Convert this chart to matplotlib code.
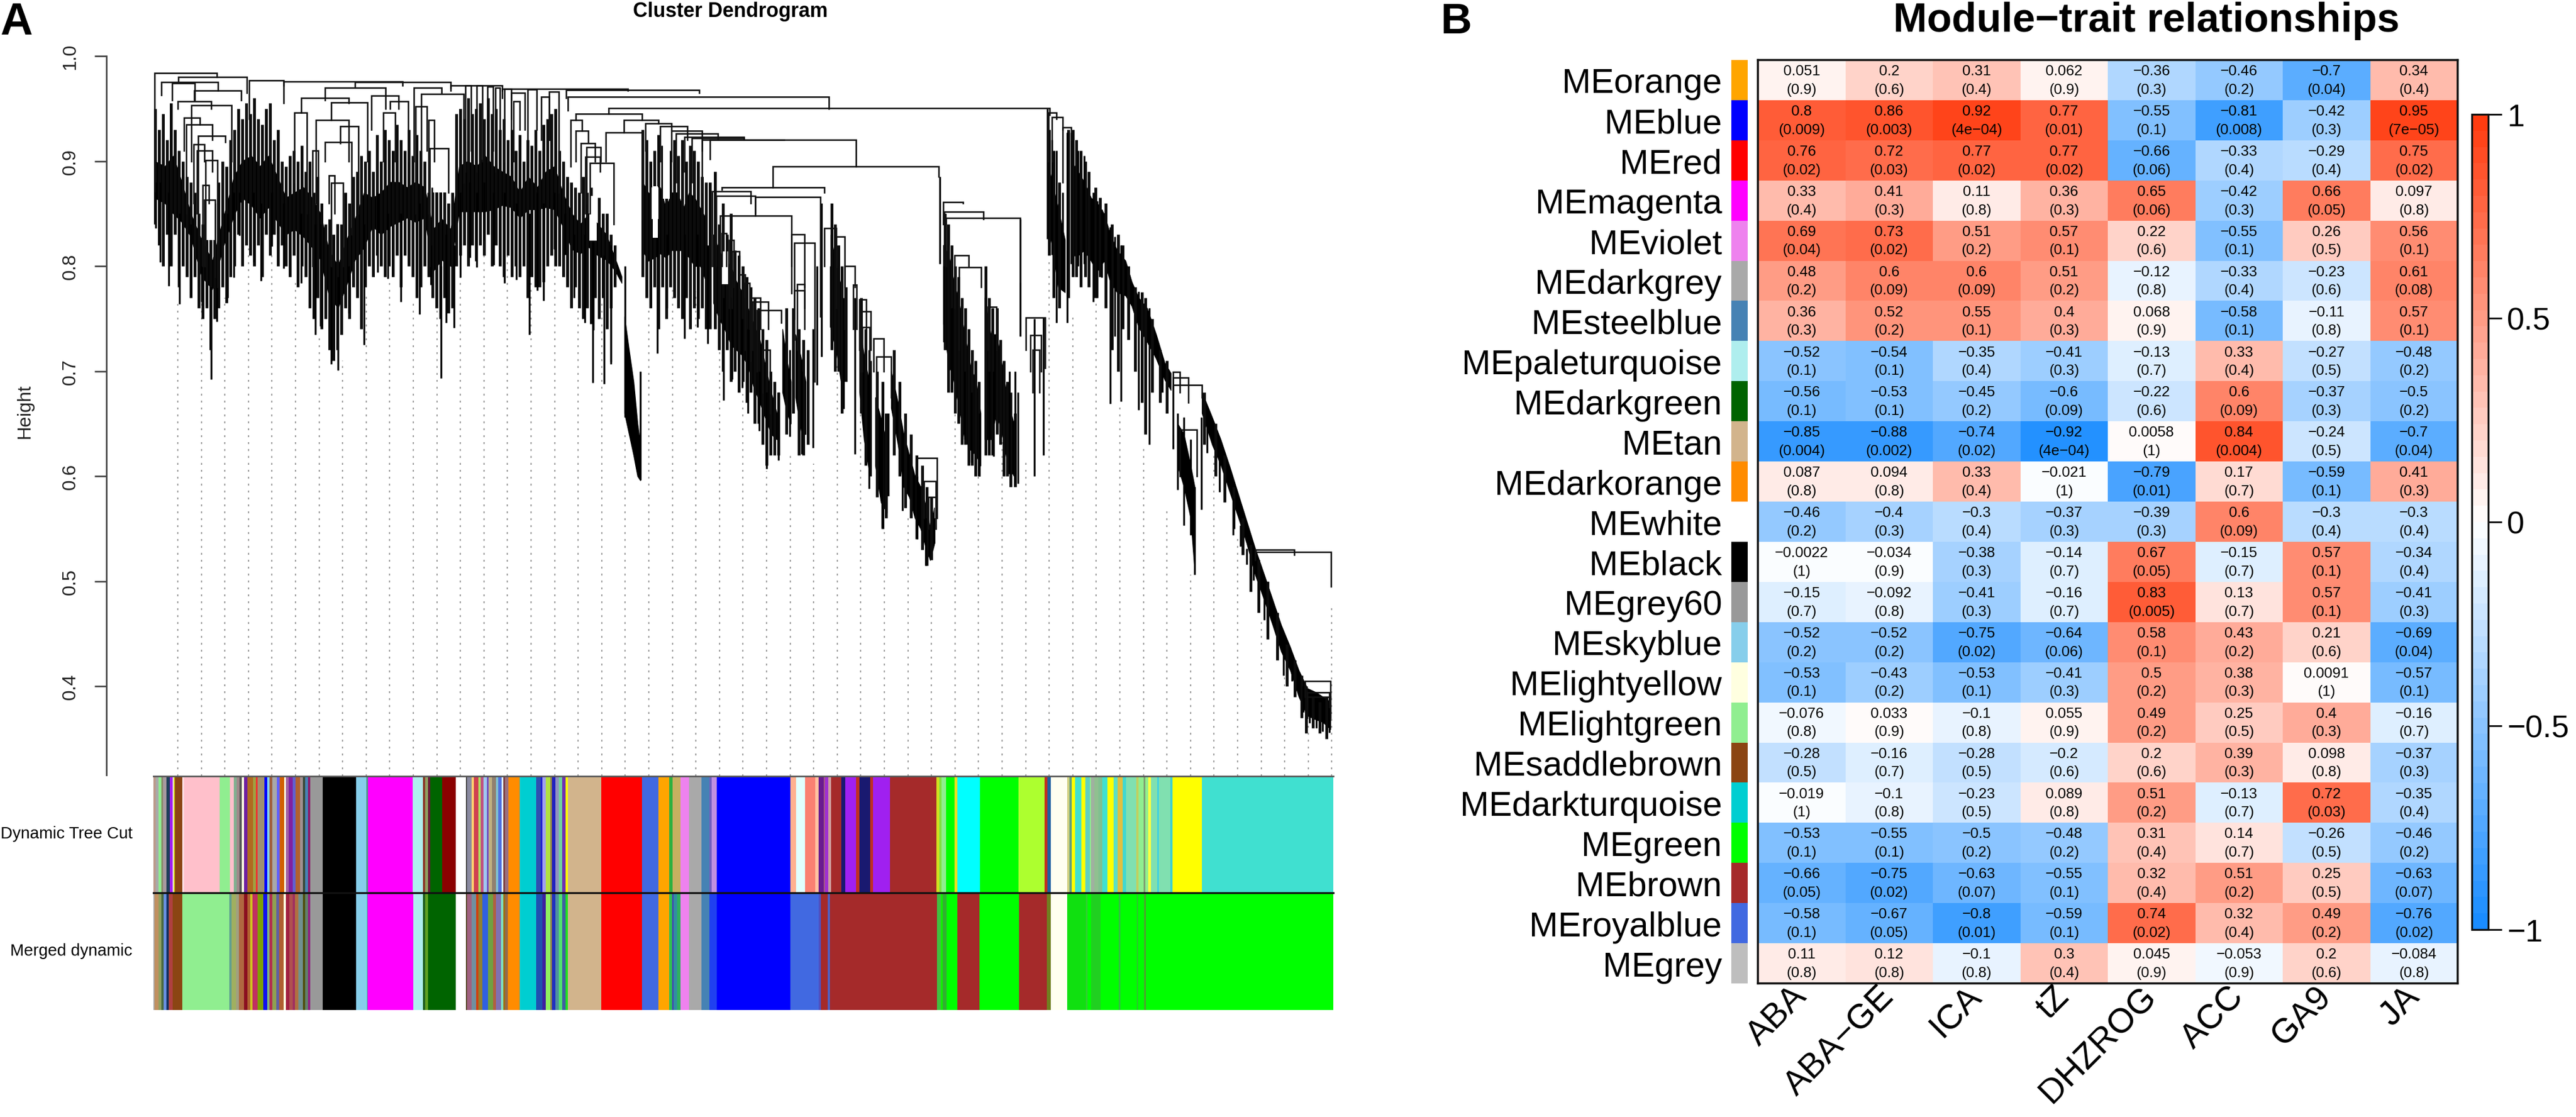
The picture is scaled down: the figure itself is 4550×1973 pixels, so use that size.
import matplotlib
matplotlib.use('Agg')
import matplotlib.pyplot as plt
from matplotlib.colors import LinearSegmentedColormap
import numpy as np

plt.rcParams['font.family'] = ['Liberation Sans', 'DejaVu Sans']

W, H = 4550, 1974

# ---- panel A: leaf positions run from 0 to 2084 along the tree, y is height
guide_x = [43, 85, 126, 168, 209, 251, 293, 334, 376, 417, 459, 501, 542, 584, 625, 667, 709,
           750, 792, 833, 875, 917, 958, 1000, 1041, 1083, 1125, 1166, 1208, 1249, 1291, 1333,
           1374, 1416, 1457, 1499, 1541, 1582, 1624, 1665, 1707, 1749, 1790, 1832, 1873, 1915,
           1957, 1998, 2040, 2081]
guide_top = [.764, .766, .770, .819, .813, .786, .734, .710, .775, .784, .767, .780, .790, .826,
             .813, .784, .817, .762, .766, .640, .762, .779, .776, .718, .678, .605, .621, .612,
             .709, .678, .551, .564, .500, .700, .600, .660, .617, .807, .755, .768, .669, .630,
             .570, .506, .620, .544, .463, .410, .364, .476]

# x_left, x_right, height, left leg end, right leg end
merges = [
    (2, 112, .984, .871, .980), (44, 165, .980, .976, .965), (14, 114, .975, .963, .967),
    (33, 73, .974, .958, .958), (72, 155, .967, .958, .958), (43, 102, .957, .950, .950),
    (67, 138, .953, .900, .900), (54, 82, .941, .910, .935), (58, 104, .935, .850, .920),
    (79, 127, .924, .850, .918), (71, 90, .916, .860, .900), (77, 104, .910, .850, .890),
    (92, 113, .901, .800, .780), (87, 98, .877, .800, .860), (90, 109, .863, .800, .790),
    (169, 230, .977, .940, .955), (230, 440, .976, .972, .972), (356, 525, .975, .971, .970),
    (303, 410, .970, .958, .950), (261, 345, .960, .946, .955), (385, 433, .962, .930, .950),
    (314, 378, .956, .939, .900), (418, 450, .957, .950, .900), (249, 271, .946, .880, .850),
    (287, 345, .939, .860, .900), (406, 427, .946, .900, .900), (330, 362, .933, .917, .850),
    (303, 350, .918, .900, .830), (281, 291, .910, .800, .800), (310, 320, .886, .860, .850),
    (314, 335, .879, .800, .800), (460, 509, .970, .900, .965), (473, 548, .964, .880, .880),
    (463, 483, .952, .850, .910), (486, 496, .939, .850, .900), (488, 521, .912, .800, .870),
    (525, 616, .972, .967, .967), (616, 838, .969, .960, .967), (729, 964, .9675, .960, .965),
    (551, 561, .972, .890, .910), (571, 581, .972, .890, .900), (590, 600, .971, .900, .910),
    (604, 612, .970, .890, .920), (620, 632, .969, .900, .930), (632, 656, .965, .940, .930),
    (636, 647, .957, .900, .930), (661, 677, .968, .900, .930), (685, 699, .961, .920, .920),
    (699, 716, .966, .920, .870), (731.5, 1193, .961, .948, .950), (804, 1583, .9505, .945, .944),
    (746, 863, .945, .939, .939), (737, 757, .939, .895, .929), (746, 768, .929, .900, .918),
    (754.5, 780, .917, .870, .900), (765, 790, .913, .860, .900), (763, 789, .904, .850, .890),
    (771, 813, .898, .850, .840), (831, 892, .939, .927, .936), (799, 863, .927, .900, .845),
    (869, 915, .936, .910, .930), (895, 943, .933, .900, .920), (915, 969, .929, .900, .910),
    (923, 997, .926, .880, .920), (938, 1043, .923, .890, .920), (951, 1043, .922, .880, .920),
    (969, 1114, .920, .870, .920), (983, 1241, .920, .902, .895), (1094, 1387, .895, .875, .885),
    (1004, 1185, .875, .873, .870), (987, 1055, .871, .800, .860), (994, 1063, .867, .800, .850),
    (1063, 1178, .866, .848, .752), (1001, 1127, .848, .750, .774), (1127, 1150, .830, .800, .780),
    (1132, 1168, .822, .750, .690), (1132, 1150, .777, .730, .740), (1137, 1150, .783, .720, .760),
    (1004, 1012, .831, .800, .800), (1017, 1025, .825, .760, .780), (1022, 1035, .814, .760, .760),
    (1035, 1045, .792, .720, .760), (1045, 1053, .784, .720, .740), (1055, 1072, .770, .710, .740),
    (1058, 1086, .766, .720, .740), (1066, 1109, .758, .700, .746), (1076, 1089, .720, .680, .660),
    (1185, 1206, .836, .800, .800), (1206, 1221, .828, .760, .780), (1221, 1239, .800, .740, .780),
    (1236, 1242, .782, .740, .740), (1247, 1259, .768, .720, .720), (1249, 1267, .757, .700, .720),
    (1252, 1265, .742, .700, .700), (1272, 1290, .731, .700, .700), (1277, 1303, .714, .660, .675),
    (1349, 1384, .617, .600, .560), (1361, 1382, .595, .560, .560), (1369, 1382, .580, .550, .550),
    (1395, 1430, .861, .840, .860), (1397, 1466, .852, .840, .845), (1400, 1531, .846, .800, .785),
    (1415, 1440, .810, .760, .800), (1423, 1462, .799, .720, .780), (1474, 1489, .761, .720, .720),
    (1541, 1575, .751, .720, .703), (1549, 1568, .734, .700, .700), (1553, 1565, .720, .680, .680),
    (1581, 1595, .946, .900, .940), (1587, 1606, .942, .900, .930), (1606, 1621, .932, .880, .920),
    (1801, 1813, .699, .670, .680), (1801, 1828, .694, .640, .670), (1801, 1852, .687, .630, .675),
    (1813, 1843, .644, .600, .600), (1946, 2015, .530, .520, .525), (1946, 2080, .528, .520, .495),
    (2034, 2079, .405, .390, .390), (2038, 2077, .394, .380, .380), (2038, 2079, .390, .370, .370),
]

# solid black parts of the tree, each block: x, upper edge, lower edge
core_blocks = [
    ([2, 20, 35, 50, 66, 85, 104, 123, 142, 157, 173, 188, 203, 219, 234, 249, 265, 280, 295, 310,
      326, 341, 356, 372, 387, 402, 418, 433, 448, 463, 479, 494, 509, 525, 540, 555, 571, 586,
      601, 616, 632, 647, 662, 678, 693, 708, 723, 739, 754, 769, 785, 800, 815, 827],
     [.900, .895, .905, .880, .850, .825, .805, .845, .885, .900, .905, .895, .905, .885, .865,
      .870, .875, .865, .850, .815, .800, .825, .845, .870, .865, .870, .880, .880, .875, .880,
      .875, .835, .845, .835, .895, .900, .895, .905, .895, .890, .885, .870, .885, .875, .890,
      .895, .870, .850, .840, .850, .840, .830, .808, .790],
     [.865, .860, .850, .842, .828, .790, .778, .818, .848, .865, .858, .846, .856, .842, .830,
      .835, .828, .818, .806, .772, .760, .782, .806, .818, .838, .830, .838, .842, .846, .842,
      .846, .795, .806, .800, .852, .852, .852, .852, .854, .858, .856, .846, .854, .854, .856,
      .854, .838, .816, .812, .818, .810, .806, .796, .784]),
    ([832, 840, 848, 855, 860], [.752, .720, .690, .650, .630], [.660, .640, .620, .600, .596]),
    ([864, 874, 885, 895, 905, 915, 925, 936, 946, 956, 966, 976],
     [.880, .870, .865, .875, .855, .870, .870, .855, .870, .865, .855, .845],
     [.815, .805, .808, .812, .808, .815, .815, .815, .808, .800, .800, .785]),
    ([989, 999, 1009, 1020, 1030, 1040, 1050, 1060, 1071, 1081, 1091, 1101],
     [.830, .815, .805, .800, .785, .775, .760, .745, .730, .705, .680, .660],
     [.765, .750, .740, .725, .720, .715, .705, .685, .670, .655, .640, .635]),
    ([1111, 1119, 1126], [.740, .710, .690], [.680, .660, .650]),
    ([1134, 1145, 1152], [.735, .710, .690], [.675, .640, .640]),
    ([1196, 1206, 1217], [.830, .800, .775], [.740, .720, .680]),
    ([1247, 1255, 1264], [.745, .715, .690], [.680, .635, .605]),
    ([1275, 1285, 1296], [.675, .655, .630], [.610, .575, .565]),
    ([1303, 1315, 1325, 1335, 1345, 1355, 1365, 1372, 1379],
     [.700, .670, .640, .620, .600, .590, .570, .550, .570],
     [.665, .630, .590, .580, .560, .550, .530, .520, .535]),
    ([1395, 1405, 1412, 1423, 1433, 1443, 1453, 1461],
     [.820, .810, .790, .765, .735, .705, .690, .660],
     [.745, .705, .695, .665, .635, .625, .620, .610]),
    ([1468, 1479, 1489, 1499, 1509, 1520], [.770, .735, .735, .705, .670, .650],
     [.635, .635, .660, .640, .610, .600]),
    ([1579, 1587, 1598, 1610], [.900, .880, .855, .825], [.840, .820, .780, .775]),
    ([1621, 1633, 1644, 1656, 1667, 1679, 1690, 1702, 1717, 1728, 1740, 1755, 1771, 1786, 1797],
     [.900, .890, .880, .865, .860, .850, .830, .815, .805, .785, .770, .760, .735, .708, .698],
     [.810, .810, .815, .805, .795, .805, .785, .775, .772, .762, .742, .728, .712, .692, .682]),
    ([1809, 1820, 1832, 1839], [.650, .640, .610, .590], [.610, .590, .560, .510]),
    ([1852, 1870, 1885, 1901, 1916, 1931, 1946, 1962, 1977, 1992, 2008, 2023, 2038, 2054, 2065, 2079],
     [.680, .656, .635, .609, .583, .557, .531, .506, .482, .458, .437, .415, .398, .394, .390, .385],
     [.660, .630, .611, .585, .561, .536, .506, .482, .458, .433, .415, .390, .372, .368, .366, .359]),
]

# the fringe of close branches around the solid parts: x, top, bottom
fringe = [
    (3, .95, .84), (10, .93, .82), (17, .945, .80), (24, .92, .83), (31, .955, .80), (38, .93, .83),
    (45, .91, .78), (52, .90, .80), (59, .885, .79), (66, .88, .77), (73, .87, .79), (80, .85, .76),
    (87, .84, .75), (94, .86, .76), (101, .83, .72), (108, .86, .75), (115, .88, .76), (122, .90, .78),
    (129, .895, .765), (136, .92, .79), (143, .93, .80), (150, .95, .83), (157, .94, .80),
    (164, .955, .82), (171, .945, .81), (178, .96, .80), (185, .94, .82), (192, .935, .79),
    (199, .95, .83), (206, .955, .81), (213, .92, .83), (220, .93, .80), (227, .90, .82),
    (234, .895, .80), (241, .905, .79), (248, .91, .81), (255, .90, .78), (262, .915, .80),
    (269, .89, .79), (276, .90, .76), (283, .87, .75), (290, .885, .77), (297, .86, .74),
    (304, .84, .75), (311, .845, .72), (318, .83, .71), (325, .85, .72), (332, .84, .735),
    (339, .87, .76), (346, .86, .75), (353, .885, .78), (360, .89, .77), (367, .905, .74),
    (374, .90, .78), (381, .91, .80), (388, .89, .79), (395, .925, .81), (402, .90, .80),
    (409, .93, .79), (416, .92, .80), (423, .91, .79), (430, .935, .81), (437, .92, .78),
    (444, .91, .81), (451, .93, .80), (458, .905, .79), (465, .925, .77), (472, .91, .78),
    (479, .90, .80), (486, .87, .79), (493, .875, .77), (500, .89, .76), (507, .88, .75),
    (514, .885, .77), (521, .86, .755), (528, .87, .76), (535, .945, .80), (542, .95, .81),
    (549, .94, .82), (556, .96, .80), (563, .945, .82), (570, .95, .805), (577, .955, .82),
    (584, .94, .81), (591, .96, .83), (598, .945, .80), (605, .95, .82), (612, .93, .80),
    (619, .94, .79), (626, .92, .81), (633, .93, .79), (640, .91, .80), (647, .925, .79),
    (654, .90, .80), (661, .92, .77), (668, .915, .79), (675, .93, .78), (682, .91, .78),
    (689, .935, .785), (696, .94, .80), (703, .945, .81), (710, .95, .80), (717, .91, .80),
    (724, .90, .79), (731, .885, .78), (738, .88, .76), (745, .875, .78), (752, .87, .76),
    (759, .885, .75), (766, .87, .76), (773, .875, .745), (780, .86, .77), (787, .865, .75),
    (794, .85, .77), (801, .85, .74), (808, .83, .76), (815, .82, .78),
    (864, .93, .79), (871, .92, .77), (878, .90, .76), (885, .91, .78), (892, .925, .74),
    (899, .915, .78), (906, .90, .75), (913, .91, .78), (920, .92, .77), (927, .905, .76),
    (934, .92, .75), (941, .90, .77), (948, .915, .74), (955, .91, .76), (962, .90, .75),
    (969, .885, .76), (976, .88, .74), (983, .88, .74),
    (992, .89, .74), (999, .84, .72), (1006, .86, .70), (1013, .83, .72), (1020, .85, .69),
    (1027, .815, .70), (1034, .81, .68), (1041, .80, .69), (1048, .79, .67), (1055, .78, .68),
    (1062, .77, .65), (1069, .76, .65), (1076, .74, .63), (1083, .73, .61), (1090, .70, .62),
    (1097, .69, .62), (1104, .68, .62), (1118, .76, .64), (1130, .76, .66), (1140, .74, .62),
    (1148, .73, .62), (1156, .72, .63), (1198, .86, .72), (1204, .84, .70), (1210, .82, .70),
    (1216, .80, .66), (1223, .78, .69), (1250, .77, .66), (1258, .74, .61), (1266, .71, .60),
    (1278, .70, .58), (1288, .69, .55), (1294, .66, .56), (1308, .72, .62), (1318, .69, .60),
    (1328, .66, .57), (1338, .64, .56), (1348, .62, .54), (1358, .61, .53), (1366, .59, .515),
    (1374, .58, .52), (1398, .85, .72), (1404, .84, .68), (1410, .82, .68), (1416, .80, .66),
    (1422, .79, .65), (1428, .77, .63), (1434, .76, .63), (1440, .74, .61), (1446, .72, .61),
    (1452, .71, .60), (1458, .69, .60), (1470, .80, .62), (1476, .77, .62), (1482, .76, .62),
    (1490, .76, .64), (1496, .73, .63), (1502, .71, .60), (1508, .69, .60), (1514, .68, .59),
    (1522, .66, .59), (1582, .93, .81), (1590, .91, .77), (1600, .88, .76), (1616, .93, .77),
    (1624, .93, .79), (1630, .92, .79), (1638, .91, .78), (1646, .90, .79), (1652, .89, .78),
    (1664, .875, .77), (1672, .865, .79), (1682, .86, .76), (1693, .84, .72), (1704, .83, .70),
    (1712, .82, .74), (1722, .80, .73), (1734, .78, .70), (1746, .775, .67), (1752, .77, .64),
    (1764, .75, .68), (1778, .72, .67), (1790, .71, .66), (1856, .68, .63), (1876, .65, .60),
    (1892, .62, .575), (1908, .59, .55), (1924, .56, .525), (1938, .535, .49), (1952, .52, .47),
    (1968, .50, .445), (1985, .47, .425), (2002, .44, .40), (2016, .425, .39), (2028, .41, .37),
    (2036, .40, .355), (2048, .39, .36), (2060, .385, .355), (2072, .39, .35),
]

# white openings inside the black mass: x_left, x_right, top, bottom
holes = [(90, 109, .861, .825), (92, 114, .900, .877), (303, 318, .885, .850), (314, 333, .877, .840),
         (494, 521, .910, .870), (773, 800, .895, .876), (800, 815, .897, .870), (880, 892, .875, .845),
         (770, 783, .867, .824), (882, 891, .876, .827), (900, 912, .915, .864), (1004, 1015, .814, .783)]

# single branches hanging out of the solid parts
spike_x = [4, 12, 27, 46, 66, 85, 102, 112, 131, 142, 152, 177, 190, 209, 230, 261, 286, 295, 314,
           326, 345, 372, 396, 414, 437, 470, 490, 508, 517, 531, 542, 559, 571, 584, 601, 620,
           641, 664, 678, 689, 708, 727, 743, 762, 777, 796, 808,
           776, 808, 833, 860, 890, 907, 938, 961, 979, 1007, 1022, 1040, 1050, 1070, 1083, 1104,
           1124, 1145, 1165, 1172, 1180, 1196, 1219, 1239, 1264, 1287, 1298, 1323, 1349, 1364, 1379,
           1389, 1396, 1410, 1433, 1445, 1459, 1476, 1484, 1512, 1527, 1531, 1522, 1556, 1572,
           1579, 1587, 1595, 1606, 1614, 1621, 1633, 1644, 1660, 1667, 1675, 1690, 1698, 1709, 1740,
           1759, 1782, 1801, 1809, 1820, 1832, 1839, 1851, 1861, 1883, 1907, 1920, 1931, 1943, 1962,
           1996, 2011, 2031, 2042, 2054, 2065, 2077]
spike_top = [.88, .88, .87, .85, .84, .80, .78, .82, .85, .87, .87, .87, .86, .87, .86, .85, .84,
             .84, .80, .79, .80, .84, .87, .85, .85, .86, .82, .80, .83, .82, .87, .88, .87, .88,
             .87, .87, .86, .85, .87, .86, .87, .85, .83, .83, .83, .81, .80,
             .86, .82, .80, .70, .83, .83, .83, .83, .82, .77, .77, .75, .74, .70, .68, .68,
             .72, .70, .74, .80, .86, .80, .77, .77, .72, .66, .66, .63, .60, .56, .56,
             .885, .80, .76, .70, .68, .66, .70, .70, .70, .68, .845, .70, .75, .751,
             .95, .92, .91, .87, .927, .927, .91, .905, .87, .862, .854, .837, .828, .82, .776,
             .76, .71, .686, .66, .656, .635, .59, .656, .656, .622, .579, .553, .531, .527, .49,
             .445, .43, .40, .385, .38, .375, .39]
spike_bottom = [.836, .804, .781, .764, .771, .766, .692, .747, .770, .789, .829, .804, .786, .819,
                .798, .784, .735, .743, .707, .701, .755, .725, .794, .788, .766, .754, .782, .693,
                .746, .741, .789, .808, .799, .825, .801, .784, .787, .735, .777, .767, .816, .811,
                .770, .746, .739, .688, .707,
                .689, .709, .656, .596, .717, .760, .731, .742, .726, .672, .692, .684, .660, .643,
                .607, .615, .638, .621, .627, .687, .714, .742, .664, .621, .588, .551, .581, .567,
                .540, .515, .536, .802, .728, .683, .635, .613, .600, .621, .619, .602, .593, .733,
                .594, .600, .620,
                .826, .811, .746, .785, .746, .802, .800, .802, .766, .770, .789, .669, .733, .671,
                .663, .630, .680, .626, .587, .553, .544, .506, .568, .622, .585, .544, .533, .516,
                .501, .463, .410, .405, .375, .365, .360, .357, .356]

height_ticks = [0.4, 0.5, 0.6, 0.7, 0.8, 0.9, 1.0]
strip_labels = ['Dynamic Tree Cut', 'Merged dynamic']

# colour strips: position along the tree where a colour starts, then the colour
tree_cut_starts = [0, 4, 9, 14, 17, 23, 29, 34, 36, 38, 51, 54, 117, 135, 142, 147, 152, 156, 160, 166,
                   176, 181, 184, 196, 201, 205, 210, 218, 223, 231, 234, 239, 246, 251, 259, 264,
                   268, 273, 277, 299, 358, 376, 379, 458, 476, 480, 485, 489, 510, 534, 552, 554,
                   562, 566, 574, 578, 583, 589, 592, 598, 605, 609, 615, 618, 621, 627, 647, 676,
                   684, 687, 693, 701, 704, 710, 716, 722, 728, 732, 791, 863, 892, 911, 917, 931,
                   946, 968, 982, 986, 995, 1125, 1135, 1151, 1169, 1175, 1184, 1186, 1192, 1197,
                   1215, 1222, 1241, 1247, 1266, 1271, 1301, 1383, 1388, 1392, 1400, 1415, 1420,
                   1460, 1528, 1574, 1579, 1585, 1614, 1618, 1622, 1628, 1639, 1646, 1654, 1656,
                   1662, 1669, 1676, 1685, 1696, 1703, 1712, 1718, 1736, 1740, 1749, 1752, 1757,
                   1762, 1773, 1776, 1796, 1800, 1852]
tree_cut_colors = ['#bc9a8a', '#a9a9a9', '#90ee90', '#8b8b6b', '#a89aa0', '#1f3f5a', '#a020f0',
                   '#f5f5dc', '#c8c800', '#8b4513', '#ffe0e6', '#ffc0cb', '#90ee90', '#ffc0cb',
                   '#80b090', '#a08a8a', '#555555', '#ffffe0', '#7020a0', '#b06a20', '#a0a040',
                   '#f03030', '#a09070', '#0000ff', '#87ceeb', '#a06040', '#a9a9a9', '#6060ff',
                   '#d06000', '#ffffe0', '#a060a0', '#8020a0', '#6060d0', '#b06030', '#a09090',
                   '#3a4a3a', '#4682b4', '#8b1a6b', '#999999', '#000000', '#87ceeb', '#4a9a8a',
                   '#ff00ff', '#afeeee', '#8b3a2a', '#90a060', '#6b1a3a', '#006400', '#8b0000',
                   '#ffffff', '#404040', '#8a8aa0', '#ffd070', '#d04050', '#b0e060', '#c05080',
                   '#a0c8f0', '#7050c0', '#c0b080', '#908070', '#80c0d0', '#5070e0', '#e0f0ff',
                   '#804040', '#9a7080', '#ff8c00', '#00ced1', '#3050b0', '#2020d0', '#a0a0f0',
                   '#b0e040', '#908050', '#2020c0', '#9090c0', '#70d0a0', '#7030b0', '#ffff00',
                   '#d2b48c', '#ff0000', '#4169e1', '#ffa500', '#30b040', '#c8b060', '#ee82ee',
                   '#a9a9a9', '#4682b4', '#7060c0', '#c090e0', '#0000ff', '#ffb090', '#e0ffff',
                   '#fa8072', '#ffc0a0', '#6a1a90', '#a55a80', '#a030d0', '#d0a0a0', '#a52a2a',
                   '#191970', '#a020f0', '#c03020', '#191970', '#c03020', '#a020f0', '#a52a2a',
                   '#d0e020', '#80e040', '#90ee90', '#00ff00', '#e8e020', '#00ffff', '#00ff00',
                   '#adff2f', '#c03020', '#2060a0', '#fffff0', '#d0d080', '#60a080', '#ffff00',
                   '#40e0d0', '#ffff00', '#60d0c0', '#90ee90', '#a0b0a0', '#90c090', '#80c090',
                   '#40e0d0', '#ffff00', '#60e0c0', '#e0c040', '#40d8d0', '#80e0b0', '#c0d060',
                   '#90ee90', '#80a070', '#90ee90', '#ffff40', '#80e0b0', '#40d0e0', '#80e0b0',
                   '#40d0d0', '#ffff00', '#40e0d0']

merged_starts = [0, 2, 9, 14, 18, 23, 27, 34, 51, 134, 138, 146, 151, 160, 166, 171, 175, 184, 194, 201,
                 205, 210, 217, 222, 230, 234, 240, 246, 250, 256, 264, 268, 273, 277, 299, 358,
                 377, 378, 459, 476, 480, 485, 534, 552, 554, 562, 570, 574, 581, 591, 600, 605,
                 614, 618, 621, 626, 647, 676, 687, 693, 701, 704, 710, 716, 722, 728, 732, 791,
                 863, 892, 911, 916, 919, 925, 931, 946, 968, 982, 995, 1125, 1175, 1179, 1191,
                 1195, 1384, 1391, 1394, 1401, 1420, 1459, 1529, 1578, 1585, 1614, 1647, 1650,
                 1656, 1673, 1705, 1708, 1737, 1739, 1750, 1753]
merged_colors = ['#a9a9a9', '#c09060', '#90a060', '#4a6a40', '#6a90e0', '#103060', '#b04040',
                 '#8b4513', '#90ee90', '#60a090', '#a0b060', '#a0a080', '#b06840', '#8b1020',
                 '#b06030', '#d0c020', '#c03060', '#80a000', '#1010f0', '#80b080', '#b03050',
                 '#90a050', '#6060a0', '#b06030', '#ffffe0', '#a02040', '#b05050', '#a03060',
                 '#b07040', '#709090', '#505010', '#60806a', '#902080', '#999999', '#000000',
                 '#87ceeb', '#00e080', '#ff00ff', '#afeeee', '#206020', '#60a020', '#006400',
                 '#ffffff', '#504020', '#a06080', '#7090a0', '#d04010', '#908030', '#3060e0',
                 '#70a040', '#b06040', '#8070b0', '#80e0c0', '#a07010', '#906a50', '#ff8c00',
                 '#00ced1', '#2050b0', '#4020a0', '#90f060', '#908050', '#2030c0', '#5090a0',
                 '#50e070', '#4060a0', '#20e020', '#d2b48c', '#ff0000', '#4169e1', '#ffa500',
                 '#30c050', '#4050b0', '#3090a0', '#30b060', '#ee82ee', '#a9a9a9', '#4682b4',
                 '#2040f0', '#0000ff', '#4169e1', '#5050c0', '#a52a2a', '#5060c0', '#a52a2a',
                 '#40c040', '#10f000', '#30b030', '#00ff00', '#a52a2a', '#00ff00', '#a52a2a',
                 '#708020', '#fffff0', '#10e010', '#30d030', '#00ff00', '#20d020', '#00ff00',
                 '#30c040', '#00ff00', '#30c030', '#00ff00', '#50a030', '#00ff00']

# ---- panel B
modules = ['MEorange', 'MEblue', 'MEred', 'MEmagenta', 'MEviolet', 'MEdarkgrey', 'MEsteelblue',
           'MEpaleturquoise', 'MEdarkgreen', 'MEtan', 'MEdarkorange', 'MEwhite', 'MEblack',
           'MEgrey60', 'MEskyblue', 'MElightyellow', 'MElightgreen', 'MEsaddlebrown',
           'MEdarkturquoise', 'MEgreen', 'MEbrown', 'MEroyalblue', 'MEgrey']
module_colors = ['#ffa500', '#0000ff', '#ff0000', '#ff00ff', '#ee82ee', '#a9a9a9', '#4682b4',
                 '#afeeee', '#006400', '#d2b48c', '#ff8c00', '#ffffff', '#000000', '#999999',
                 '#87ceeb', '#ffffe0', '#90ee90', '#8b4513', '#00ced1', '#00ff00', '#a52a2a',
                 '#4169e1', '#bebebe']
traits = ['ABA', 'ABA\u2212GE', 'ICA', 'tZ', 'DHZROG', 'ACC', 'GA9', 'JA']

cor_text = [
    ['0.051', '0.2', '0.31', '0.062', '-0.36', '-0.46', '-0.7', '0.34'],
    ['0.8', '0.86', '0.92', '0.77', '-0.55', '-0.81', '-0.42', '0.95'],
    ['0.76', '0.72', '0.77', '0.77', '-0.66', '-0.33', '-0.29', '0.75'],
    ['0.33', '0.41', '0.11', '0.36', '0.65', '-0.42', '0.66', '0.097'],
    ['0.69', '0.73', '0.51', '0.57', '0.22', '-0.55', '0.26', '0.56'],
    ['0.48', '0.6', '0.6', '0.51', '-0.12', '-0.33', '-0.23', '0.61'],
    ['0.36', '0.52', '0.55', '0.4', '0.068', '-0.58', '-0.11', '0.57'],
    ['-0.52', '-0.54', '-0.35', '-0.41', '-0.13', '0.33', '-0.27', '-0.48'],
    ['-0.56', '-0.53', '-0.45', '-0.6', '-0.22', '0.6', '-0.37', '-0.5'],
    ['-0.85', '-0.88', '-0.74', '-0.92', '0.0058', '0.84', '-0.24', '-0.7'],
    ['0.087', '0.094', '0.33', '-0.021', '-0.79', '0.17', '-0.59', '0.41'],
    ['-0.46', '-0.4', '-0.3', '-0.37', '-0.39', '0.6', '-0.3', '-0.3'],
    ['-0.0022', '-0.034', '-0.38', '-0.14', '0.67', '-0.15', '0.57', '-0.34'],
    ['-0.15', '-0.092', '-0.41', '-0.16', '0.83', '0.13', '0.57', '-0.41'],
    ['-0.52', '-0.52', '-0.75', '-0.64', '0.58', '0.43', '0.21', '-0.69'],
    ['-0.53', '-0.43', '-0.53', '-0.41', '0.5', '0.38', '0.0091', '-0.57'],
    ['-0.076', '0.033', '-0.1', '0.055', '0.49', '0.25', '0.4', '-0.16'],
    ['-0.28', '-0.16', '-0.28', '-0.2', '0.2', '0.39', '0.098', '-0.37'],
    ['-0.019', '-0.1', '-0.23', '0.089', '0.51', '-0.13', '0.72', '-0.35'],
    ['-0.53', '-0.55', '-0.5', '-0.48', '0.31', '0.14', '-0.26', '-0.46'],
    ['-0.66', '-0.75', '-0.63', '-0.55', '0.32', '0.51', '0.25', '-0.63'],
    ['-0.58', '-0.67', '-0.8', '-0.59', '0.74', '0.32', '0.49', '-0.76'],
    ['0.11', '0.12', '-0.1', '0.3', '0.045', '-0.053', '0.2', '-0.084'],
]
p_text = [
    ['0.9', '0.6', '0.4', '0.9', '0.3', '0.2', '0.04', '0.4'],
    ['0.009', '0.003', '4e-04', '0.01', '0.1', '0.008', '0.3', '7e-05'],
    ['0.02', '0.03', '0.02', '0.02', '0.06', '0.4', '0.4', '0.02'],
    ['0.4', '0.3', '0.8', '0.3', '0.06', '0.3', '0.05', '0.8'],
    ['0.04', '0.02', '0.2', '0.1', '0.6', '0.1', '0.5', '0.1'],
    ['0.2', '0.09', '0.09', '0.2', '0.8', '0.4', '0.6', '0.08'],
    ['0.3', '0.2', '0.1', '0.3', '0.9', '0.1', '0.8', '0.1'],
    ['0.1', '0.1', '0.4', '0.3', '0.7', '0.4', '0.5', '0.2'],
    ['0.1', '0.1', '0.2', '0.09', '0.6', '0.09', '0.3', '0.2'],
    ['0.004', '0.002', '0.02', '4e-04', '1', '0.004', '0.5', '0.04'],
    ['0.8', '0.8', '0.4', '1', '0.01', '0.7', '0.1', '0.3'],
    ['0.2', '0.3', '0.4', '0.3', '0.3', '0.09', '0.4', '0.4'],
    ['1', '0.9', '0.3', '0.7', '0.05', '0.7', '0.1', '0.4'],
    ['0.7', '0.8', '0.3', '0.7', '0.005', '0.7', '0.1', '0.3'],
    ['0.2', '0.2', '0.02', '0.06', '0.1', '0.2', '0.6', '0.04'],
    ['0.1', '0.2', '0.1', '0.3', '0.2', '0.3', '1', '0.1'],
    ['0.8', '0.9', '0.8', '0.9', '0.2', '0.5', '0.3', '0.7'],
    ['0.5', '0.7', '0.5', '0.6', '0.6', '0.3', '0.8', '0.3'],
    ['1', '0.8', '0.5', '0.8', '0.2', '0.7', '0.03', '0.4'],
    ['0.1', '0.1', '0.2', '0.2', '0.4', '0.7', '0.5', '0.2'],
    ['0.05', '0.02', '0.07', '0.1', '0.4', '0.2', '0.5', '0.07'],
    ['0.1', '0.05', '0.01', '0.1', '0.02', '0.4', '0.2', '0.02'],
    ['0.8', '0.8', '0.8', '0.4', '0.9', '0.9', '0.6', '0.8'],
]
bar_ticks = [-1, -0.5, 0, 0.5, 1]
bar_labels = ['\u22121', '\u22120.5', '0', '0.5', '1']


def px_axes(left, top, right, bottom):
    '''axes placed by pixel edges of the final picture'''
    return fig.add_axes([left / W, 1 - bottom / H, (right - left) / W, (bottom - top) / H])


def px_text(x, y, s, **kw):
    return fig.text(x / W, 1 - y / H, s, **kw)


def draw_strip(ax, starts, colors, end=2084):
    widths = np.diff(starts + [end])
    # slight overlap so no white hairlines appear between the runs
    ax.bar(starts, 1, widths + 0.6, align='edge', color=colors, linewidth=0)
    ax.set_xlim(0, end)
    ax.set_ylim(0, 1)
    ax.set_xticks([])
    ax.set_yticks([])
    for s in ax.spines.values():
        s.set_visible(False)


fig = plt.figure(figsize=(W / 100, H / 100), dpi=100, facecolor='white')

# ---------- A: dendrogram ----------
ax = px_axes(271, 100, 2355, 1372)
ax.set_xlim(0, 2084)
ax.set_ylim(1 - 1272 / 1855, 1.0)
ax.patch.set_alpha(0)
for s in ['top', 'right', 'bottom']:
    ax.spines[s].set_visible(False)
ax.spines['left'].set_position(('outward', 83 * 0.72))
ax.spines['left'].set_linewidth(2.0)
ax.spines['left'].set_color('#444444')
ax.spines['left'].set_bounds(1 - 1270 / 1855, 1.0)
ax.set_xticks([])
ax.set_yticks(height_ticks)
ax.set_yticklabels(['%.1f' % t for t in height_ticks], rotation=90, va='center', fontsize=24)
ax.tick_params(axis='y', length=15, width=2.0, color='#444444', pad=20, labelcolor='#222222')

ax.vlines(guide_x, 1 - 1272 / 1855, guide_top, colors='#9a9a9a', linewidth=1.6,
          linestyles=(0, (1.5, 4)), zorder=1)

for cx, top, bottom in core_blocks:
    ax.fill_between(cx, bottom, top, color='black', linewidth=1.0, zorder=2)
fringe_x, fringe_top, fringe_bottom = zip(*fringe)
# wide strokes so the fringe reads as the dense mass of close branches
ax.vlines(fringe_x, fringe_bottom, fringe_top, colors='#0c0c0c', linewidth=3.6, zorder=2.5)
ax.vlines(spike_x, spike_bottom, spike_top, colors='black', linewidth=2.4, zorder=3)
for xl, xr, top, bottom in holes:
    ax.bar(xl, top - bottom, xr - xl, bottom=bottom, align='edge', color='white', linewidth=0,
           zorder=3.5)

for xl, xr, h, bl, br in merges:
    ax.plot([xl, xl, xr, xr], [bl, h, h, br], color='#111111', linewidth=1.9, zorder=4,
            solid_joinstyle='miter')

px_text(44, 727, 'Height', rotation=90, fontsize=24, ha='center', va='center', color='#222222')
px_text(1290, 21, 'Cluster Dendrogram', fontsize=25.7, fontweight='bold', ha='center', va='center')
px_text(0, 61, 'A', fontsize=57, fontweight='bold', ha='left', va='baseline')

# colour strips
ax_top = px_axes(271, 1372, 2355, 1578)
draw_strip(ax_top, tree_cut_starts, tree_cut_colors)
ax_bot = px_axes(271, 1578, 2355, 1785)
draw_strip(ax_bot, merged_starts, merged_colors)
ax_bot.spines['top'].set_visible(True)
ax_bot.spines['top'].set_linewidth(2.4)
ax_bot.spines['top'].set_color('#111111')
ax_top.spines['top'].set_visible(True)
ax_top.spines['top'].set_linewidth(2.0)
ax_top.spines['top'].set_color('#555555')
px_text(234, 1473, strip_labels[0], fontsize=21, ha='right', va='center')
px_text(234, 1680, strip_labels[1], fontsize=21, ha='right', va='center')

# ---------- B: heatmap ----------
cor_values = np.array([[float(v) for v in row] for row in cor_text])
cmap = LinearSegmentedColormap.from_list('bwr50', ['#1a8cff', '#ffffff', '#ff3c10'], N=50)

hm = px_axes(3105, 107, 4341, 1738)
mesh = hm.pcolormesh(cor_values, cmap=cmap, vmin=-1, vmax=1)
hm.set_ylim(len(modules), 0)
hm.set_xticks([])
hm.set_yticks([])
for s in hm.spines.values():
    s.set_linewidth(2.6)
    s.set_color('#111111')

for i in range(len(modules)):
    for j in range(len(traits)):
        hm.text(j + 0.5, i + 0.27, cor_text[i][j].replace('-', '\u2212'), fontsize=18.7,
                ha='center', va='center', color='black')
        hm.text(j + 0.5, i + 0.73, '(' + p_text[i][j].replace('-', '\u2212') + ')', fontsize=18.7,
                ha='center', va='center', color='black')

for j, name in enumerate(traits):
    hm.annotate(name, xy=(j + 0.5, len(modules)), xycoords='data', xytext=(0, -14),
                textcoords='offset pixels', rotation=45, rotation_mode='anchor', ha='right',
                va='center', fontsize=44, annotation_clip=False)

side = px_axes(3058, 107, 3087, 1738)
side.barh(np.arange(len(modules)) + 0.5, 1, height=1, color=module_colors, linewidth=0)
side.set_xlim(0, 1)
side.set_ylim(len(modules), 0)
side.set_xticks([])
side.set_yticks(np.arange(len(modules)) + 0.5)
side.set_yticklabels(modules, fontsize=44)
side.tick_params(axis='y', length=0, pad=12)
for s in side.spines.values():
    s.set_visible(False)

cax = px_axes(4366, 203, 4395, 1643)
cb = fig.colorbar(mesh, cax=cax, ticks=bar_ticks)
cb.ax.set_yticklabels(bar_labels, fontsize=40)
cb.ax.tick_params(length=17, width=2.2, pad=7, color='#111111')
cb.outline.set_linewidth(2.4)
cb.outline.set_edgecolor('#111111')

px_text(3791, 56, 'Module\u2212trait relationships', fontsize=51.6, fontweight='bold',
        ha='center', va='baseline')
px_text(2545, 59, 'B', fontsize=55, fontweight='bold', ha='left', va='baseline')

fig.savefig('out.png', dpi=100, facecolor='white')
